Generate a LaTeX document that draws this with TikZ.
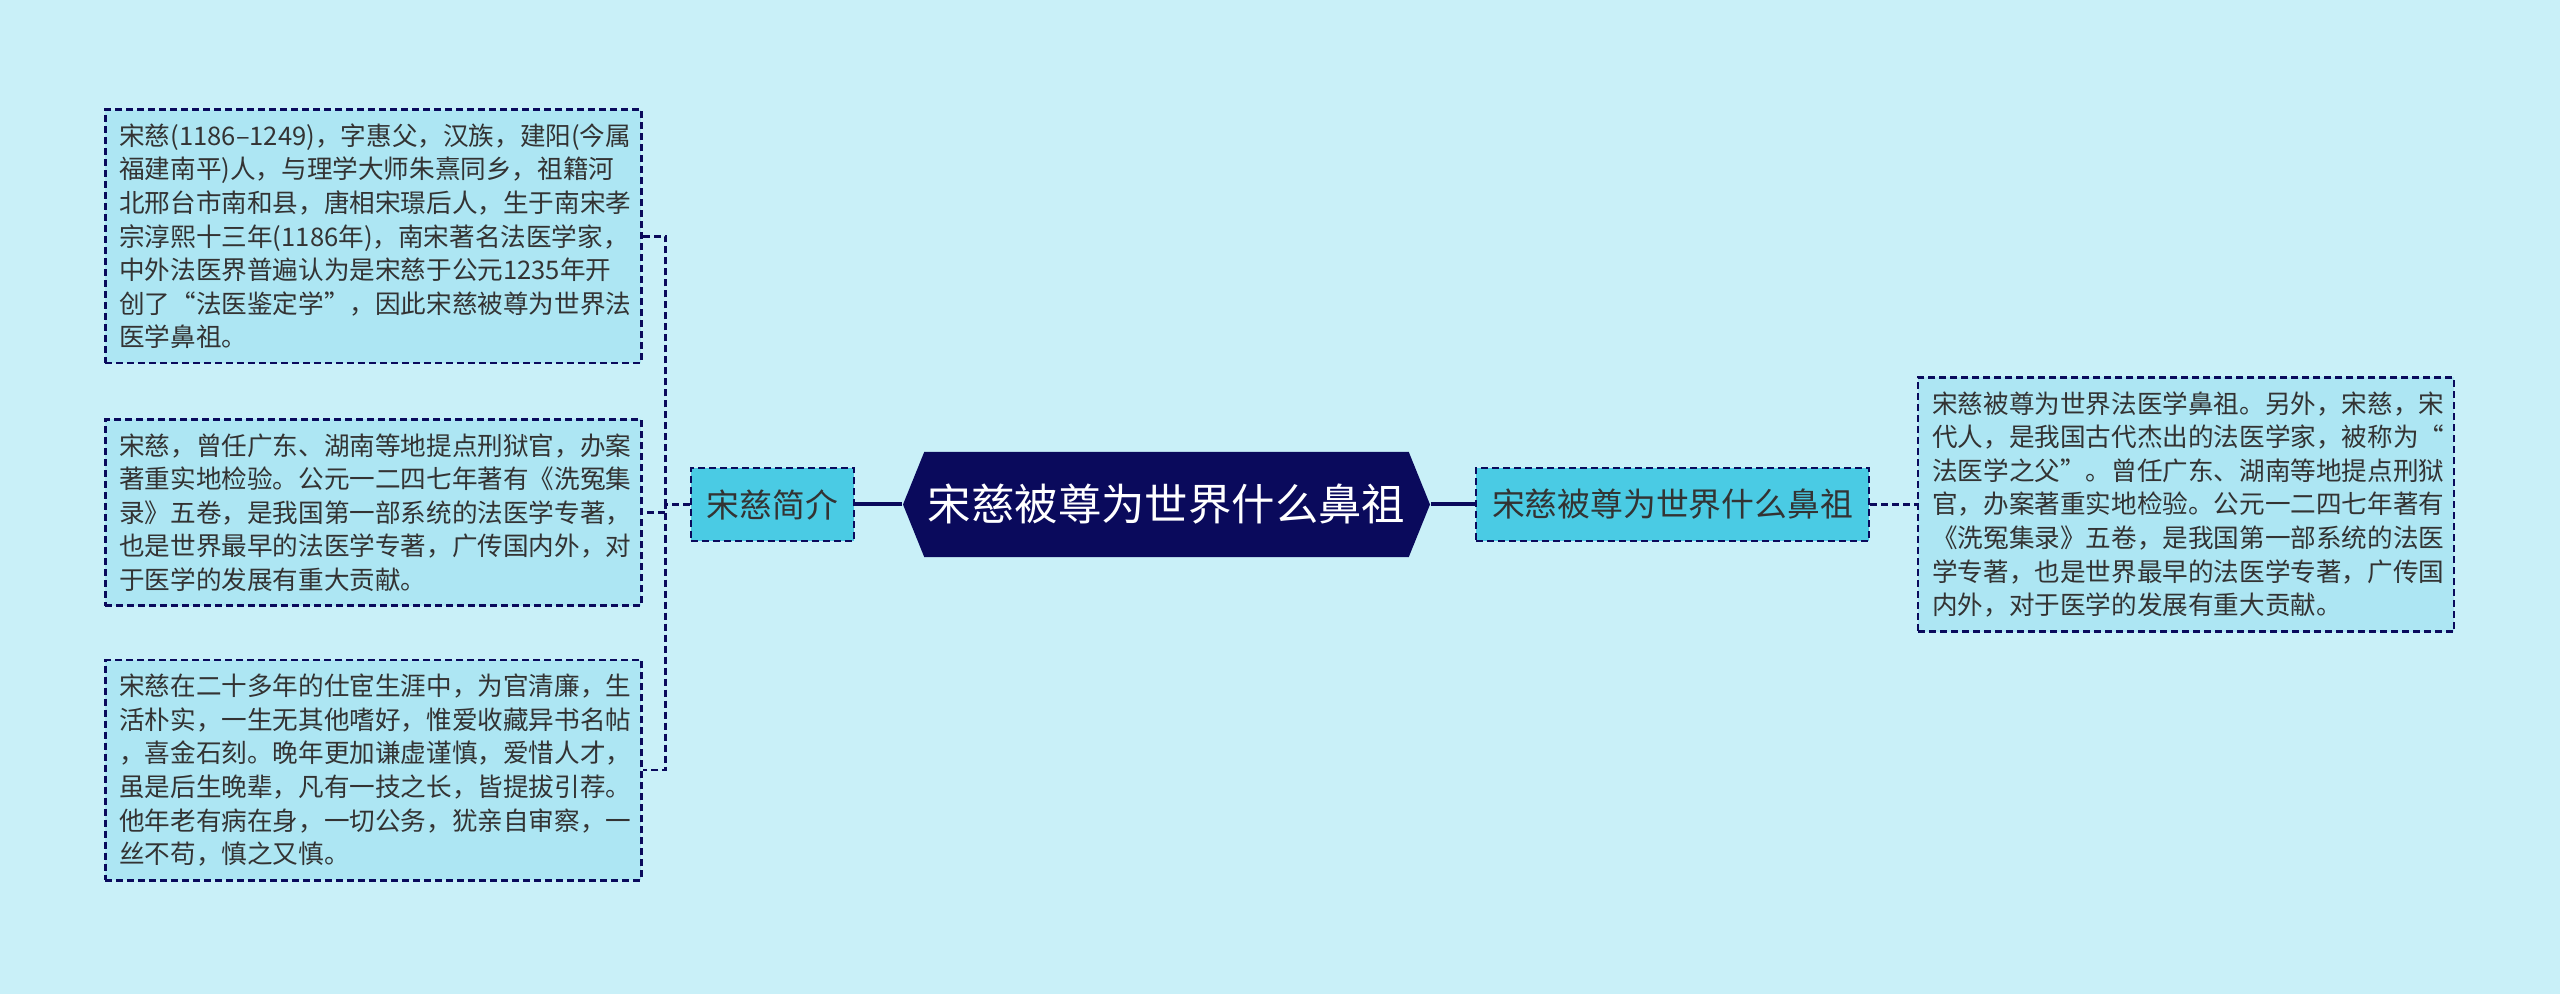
\documentclass[tikz,border=0pt]{standalone}
\usepackage{fontspec}
\setmainfont{Noto Sans CJK SC}
\usetikzlibrary{shapes.symbols, positioning}
\definecolor{bgcyan}{RGB}{201,240,248}
\definecolor{navy}{RGB}{10,10,92}
\definecolor{leafblue}{RGB}{173,230,243}
\definecolor{subblue}{RGB}{74,203,228}
\definecolor{inkgray}{RGB}{51,51,51}
\exhyphenpenalty=10000

\begin{document}
\begin{tikzpicture}[auto, node distance=22pt and 23.5pt, thick]
  % Define styles
  \tikzstyle{root} = [signal, signal to=west and east, signal pointer angle=136, minimum width=263.5pt, minimum height=52.5pt, inner sep=0pt, fill=navy, text=white, font=\fontsize{21.7pt}{26pt}\selectfont]
  \tikzstyle{topic} = [rectangle, draw=navy, line width=1.2pt, dash pattern=on 3.5pt off 2pt, fill=subblue, text=inkgray, minimum height=36.5pt, inner xsep=8pt, font=\fontsize{16.4pt}{20pt}\selectfont]
  \tikzstyle{leaf} = [rectangle, draw=navy, line width=1.2pt, dash pattern=on 3.5pt off 2pt, fill=leafblue, text=inkgray, text width=254pt, inner xsep=7pt, inner ysep=7pt, align=left, font=\fontsize{12.8pt}{16.8pt}\selectfont]
  \tikzstyle{trunk} = [draw=navy, line width=2pt]
  \tikzstyle{branch} = [draw=navy, line width=1.2pt, dash pattern=on 3.5pt off 2pt]

  % Background
  \fill [bgcyan] (0,0) rectangle (1280pt,-497pt);

  % Place nodes
  \node [root] (root) at (583.25pt,-252.25pt) {宋慈被尊为世界什么鼻祖};
  \node [topic, left=23.5pt of root] (intro) {宋慈简介};
  \node [topic, right=22pt of root] (fame) {宋慈被尊为世界什么鼻祖};
  \node [leaf, right=23.5pt of fame] (famenote) {宋慈被尊为世界法医学鼻祖。另外，宋慈，宋\\代人，是我国古代杰出的法医学家，被称为“\\法医学之父”。曾任广东、湖南等地提点刑狱\\官，办案著重实地检验。公元一二四七年著有\\《洗冤集录》五卷，是我国第一部系统的法医\\学专著，也是世界最早的法医学专著，广传国\\内外，对于医学的发展有重大贡献。};
  \node [leaf, left=23.5pt of intro, yshift=-4pt] (career) {宋慈，曾任广东、湖南等地提点刑狱官，办案\\著重实地检验。公元一二四七年著有《洗冤集\\录》五卷，是我国第一部系统的法医学专著，\\也是世界最早的法医学专著，广传国内外，对\\于医学的发展有重大贡献。};
  \node [leaf, above=27pt of career] (bio) {宋慈(1186–1249)，字惠父，汉族，建阳(今属\\福建南平)人，与理学大师朱熹同乡，祖籍河\\北邢台市南和县，唐相宋璟后人，生于南宋孝\\宗淳熙十三年(1186年)，南宋著名法医学家，\\中外法医界普遍认为是宋慈于公元1235年开\\创了“法医鉴定学”，因此宋慈被尊为世界法\\医学鼻祖。};
  \node [leaf, below=26pt of career] (virtue) {宋慈在二十多年的仕宦生涯中，为官清廉，生\\活朴实，一生无其他嗜好，惟爱收藏异书名帖\\，喜金石刻。晚年更加谦虚谨慎，爱惜人才，\\虽是后生晚辈，凡有一技之长，皆提拔引荐。\\他年老有病在身，一切公务，犹亲自审察，一\\丝不苟，慎之又慎。};

  % Draw edges
  \path [trunk] (root.west) -- (intro.east);
  \path [trunk] (root.east) -- (fame.west);
  \path [branch] (intro.west) -- ++(-12pt,0) |- (bio.east);
  \path [branch] (intro.west) -- ++(-12pt,0) |- (career.east);
  \path [branch] (intro.west) -- ++(-12pt,0) |- (virtue.east);
  \path [branch] (fame.east) -- (famenote.west);
\end{tikzpicture}
\end{document}
